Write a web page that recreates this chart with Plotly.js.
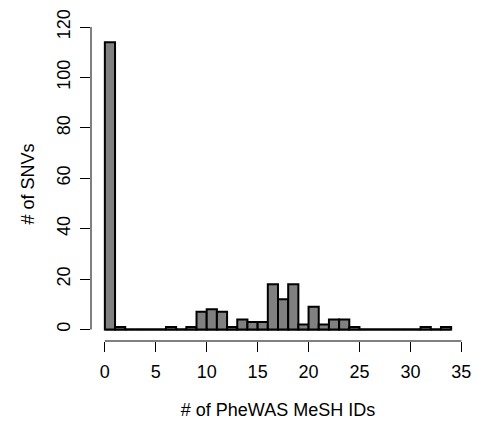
<!DOCTYPE html>
<html>
<head>
<meta charset="utf-8">
<script src="https://cdn.plot.ly/plotly-3.0.1.min.js"></script>
<style>html,body{margin:0;padding:0;background:#fff}#chart{width:477px;height:430px}</style>
</head>
<body>
<div id="chart"></div>
<script>
// Histogram bins: left edges 0..33 (width 1)
const binStarts = [0,1,2,3,4,5,6,7,8,9,10,11,12,13,14,15,16,17,18,19,20,21,22,23,24,25,26,27,28,29,30,31,32,33];
const counts    = [114,1,0,0,0,0,1,0,1,7,8,7,1,4,3,3,18,12,18,2,9,2,4,4,1,0,0,0,0,0,0,1,0,1];
const xTicks = [0,5,10,15,20,25,30,35];
const yTicks = [0,20,40,60,80,100,120];
const xTitle = "# of PheWAS MeSH IDs";
const yTitle = "# of SNVs";

const binWidth = 1;
const centers = binStarts.map(b => b + binWidth/2);
const font = "Liberation Sans, Arial, Helvetica, sans-serif";

const trace = {
  type: 'bar',
  x: centers,
  y: counts,
  width: binWidth,
  marker: {color: '#808080', line: {color: '#000', width: 2}},
  hoverinfo: 'skip'
};

const layout = {
  width: 477, height: 430,
  margin: {l: 91, r: 12, t: 27, b: 89},
  paper_bgcolor: '#fff', plot_bgcolor: '#fff',
  showlegend: false,
  font: {family: font, size: 18, color: '#000'},
  xaxis: {
    range: [-1.36, 35.36],
    tickvals: xTicks, ticktext: xTicks.map(String),
    ticks: 'outside', ticklen: 10, tickwidth: 1, tickcolor: '#000',
    ticklabelstandoff: 4,
    showgrid: false, zeroline: false, showline: false,
    tickfont: {size: 18},
    title: {text: xTitle, font: {size: 18}, standoff: 22}
  },
  yaxis: {
    range: [-4.56, 120],
    tickvals: yTicks, ticktext: yTicks.map(String),
    tickangle: -90,
    ticks: 'outside', ticklen: 10, tickwidth: 1, tickcolor: '#000',
    ticklabelstandoff: 3,
    showgrid: false, zeroline: false, showline: false,
    tickfont: {size: 18},
    title: {text: yTitle, font: {size: 18}, standoff: 14}
  },
  shapes: [
    {type: 'line', xref: 'paper', yref: 'y', x0: 0, x1: 0, y0: yTicks[0], y1: yTicks[yTicks.length-1], line: {color: '#000', width: 1}},
    {type: 'line', xref: 'x', yref: 'paper', x0: xTicks[0], x1: xTicks[xTicks.length-1], y0: 0, y1: 0, line: {color: '#000', width: 1}},
    {type: 'line', xref: 'x', yref: 'y', x0: binStarts[0], x1: binStarts[binStarts.length-1] + binWidth, y0: 0, y1: 0, line: {color: '#000', width: 2}, layer: 'below'}
  ]
};

Plotly.newPlot('chart', [trace], layout, {staticPlot: true, displayModeBar: false});
</script>
</body>
</html>
